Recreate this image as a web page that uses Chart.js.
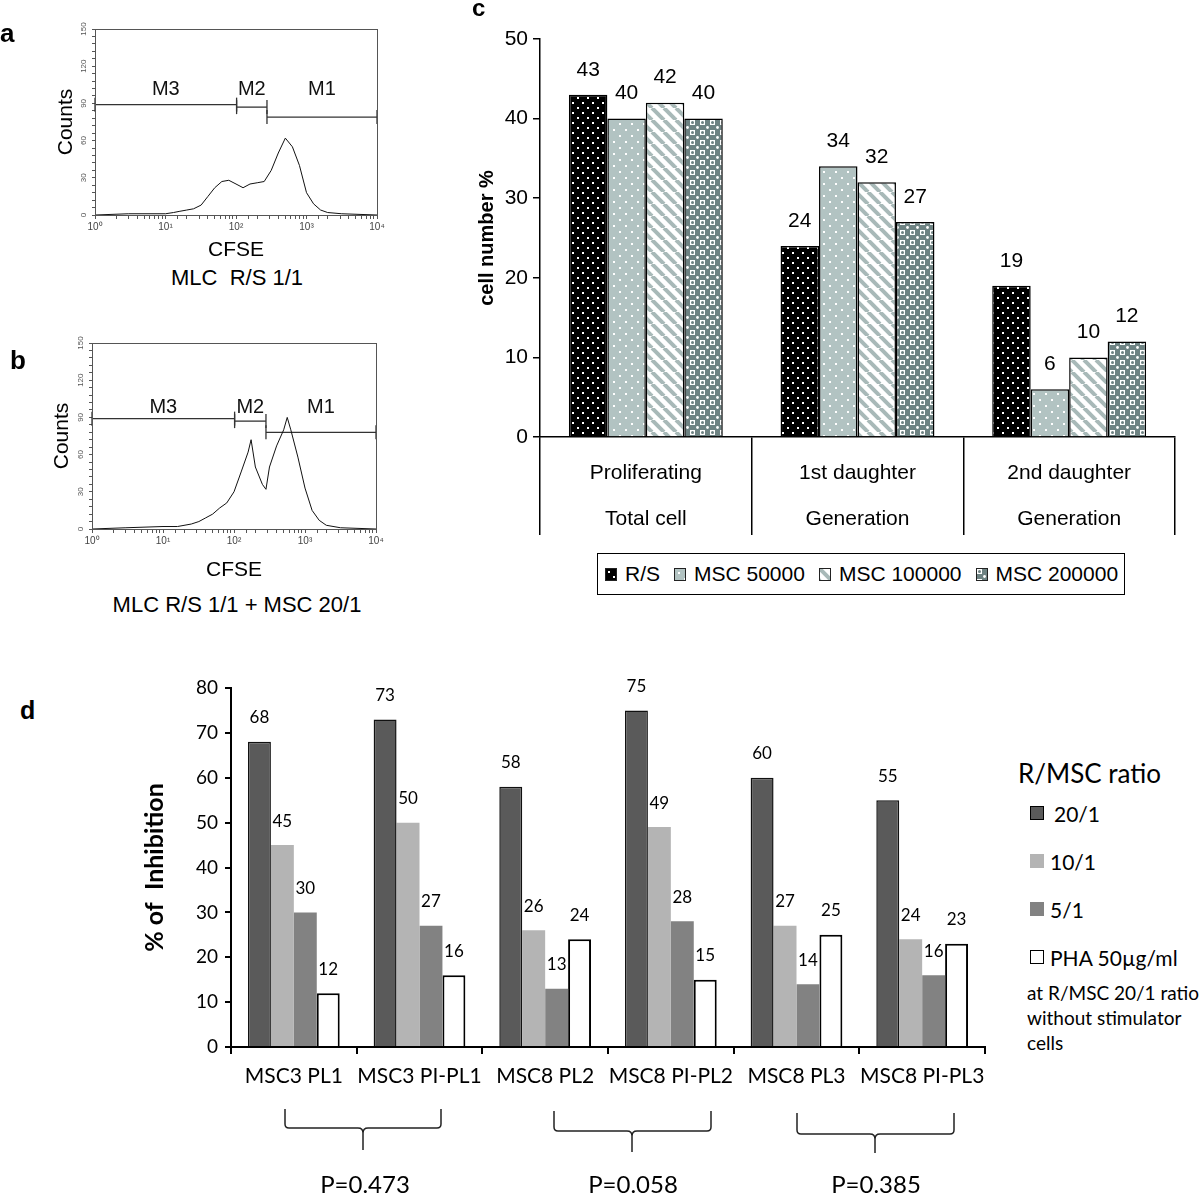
<!DOCTYPE html>
<html>
<head>
<meta charset="utf-8">
<title>MSC inhibition of proliferation</title>
<script src="https://cdn.jsdelivr.net/npm/chart.js@4.4.1/dist/chart.umd.min.js"></script>
<style>
  body { margin: 0; background: #fff; }
  #page { position: relative; width: 1200px; height: 1196px; overflow: hidden; background: #fff;
          font-family: "Liberation Sans", Arial, sans-serif; color: #000; }
  #page > canvas { position: absolute; }
  .t { position: absolute; white-space: nowrap; line-height: 1; transform: translateY(-50%); }
  .tc { position: absolute; white-space: nowrap; line-height: 1; transform: translate(-50%, -50%); }
  .lato { font-family: Lato, "Open Sans", sans-serif; }
  .panel { font-weight: bold; }
  #legendC { position: absolute; left: 597px; top: 553px; width: 528px; height: 42px; box-sizing: border-box;
             border: 1.5px solid #000; display: flex; align-items: center; padding-left: 7px; font-size: 21px;
             white-space: nowrap; }
  #legendC .item { flex: none; display: flex; align-items: center; margin-right: 14px; }
  #legendC canvas { flex: none; border: 1px solid #222; margin-right: 8px; }
  .sw { position: absolute; box-sizing: border-box; }
  svg { position: absolute; left: 0; top: 0; }
</style>
</head>
<body>
<div id="page">
  <canvas id="histA" width="400" height="263" style="left:0;top:0"></canvas>
  <canvas id="histB" width="400" height="269" style="left:0;top:314px"></canvas>
  <canvas id="chartC" width="740" height="545" style="left:460px;top:0"></canvas>
  <canvas id="chartD" width="900" height="460" style="left:100px;top:640px"></canvas>

  <div class="t panel" style="left:0;top:33px;font-size:26px">a</div>
  <div class="t panel" style="left:10px;top:360px;font-size:26px">b</div>
  <div class="t panel" style="left:472px;top:8px;font-size:24px">c</div>
  <div class="t panel" style="left:20px;top:710px;font-size:25px">d</div>

  <div class="tc" style="left:237px;top:278px;font-size:22px">MLC&nbsp; R/S 1/1</div>
  <div class="tc" style="left:237px;top:605px;font-size:22px">MLC R/S 1/1 + MSC 20/1</div>

  <div id="legendC"></div>
  <div id="legendD" class="lato"></div>

  <svg width="1200" height="1196">
    <g fill="none" stroke="#222" stroke-width="1.5">
      <path d="M285 1109 L285 1124 Q285 1128 289 1128 L358 1128 Q363 1128 363 1133 L363 1150 M363 1133 Q363 1128 368 1128 L437 1128 Q441 1128 441 1124 L441 1109"/>
      <path d="M554 1111 L554 1127 Q554 1131 558 1131 L627 1131 Q632 1131 632 1136 L632 1152 M632 1136 Q632 1131 637 1131 L707 1131 Q711 1131 711 1127 L711 1111"/>
      <path d="M797 1113 L797 1130 Q797 1134 801 1134 L870 1134 Q875 1134 875 1139 L875 1153 M875 1139 Q875 1134 880 1134 L950 1134 Q954 1134 954 1130 L954 1113"/>
    </g>
  </svg>
  <div id="pvals" class="lato"></div>
</div>

<script>
// panels a/b: CFSE histograms (channel value, counts)
var cfseA = [1, 3, 10, 13, 16, 20, 25, 32, 40, 50, 63, 79, 100, 126, 158, 200, 251, 316, 398, 501, 631, 794, 1000, 1259, 1585, 1995, 3162, 10000];
var countsA = [0, 1, 1, 2, 3, 4, 5, 8, 15, 22, 27, 28, 25, 22, 25, 26, 27, 36, 50, 62, 55, 40, 18, 9, 4, 2, 1, 0];
var cfseB = [1, 3, 10, 16, 25, 32, 40, 50, 63, 79, 100, 126, 158, 174, 200, 251, 282, 316, 398, 501, 562, 631, 794, 1000, 1259, 1585, 1995, 3162, 10000];
var countsB = [0, 1, 2, 2, 4, 6, 9, 12, 17, 21, 30, 46, 62, 72, 50, 36, 32, 50, 67, 80, 90, 80, 58, 33, 15, 7, 3, 1, 0];
var gateNames = ["M3", "M2", "M1"];
var gateRangesA = [[1, 102], [102, 275], [275, 10000]];
var gateLevelsA = [89, 87, 79];
var gateRangesB = [[1, 102], [102, 282], [282, 10000]];
var gateLevelsB = [89, 87, 78];
var countTicks = [0, 30, 60, 90, 120, 150];

// panel c
var cCategories = [["Proliferating", "Total cell"], ["1st daughter", "Generation"], ["2nd daughter", "Generation"]];
var cSeries = ["R/S", "MSC 50000", "MSC 100000", "MSC 200000"];
var cRS = [43, 24, 19];
var cMSC50 = [40, 34, 6];
var cMSC100 = [42, 32, 10];
var cMSC200 = [40, 27, 12];

// panel d
var dCategories = ["MSC3 PL1", "MSC3 PI-PL1", "MSC8 PL2", "MSC8 PI-PL2", "MSC8 PL3", "MSC8 PI-PL3"];
var dSeries = ["20/1", "10/1", "5/1", "PHA 50\u00b5g/ml"];
var d20 = [68, 73, 58, 75, 60, 55];
var d10 = [45, 50, 26, 49, 27, 24];
var d5 = [30, 27, 13, 28, 14, 16];
var dPHA = [12, 16, 24, 15, 25, 23];
var pValues = ["P=0.473", "P=0.058", "P=0.385"];

var sup = ["\u2070", "\u00b9", "\u00b2", "\u00b3", "\u2074"];
function decade(v) {
  var e = Math.round(Math.log10(v));
  return Math.abs(Math.pow(10, e) - v) < 1e-6 ? "10" + sup[e] : "";
}

var frame = {
  id: "frame",
  afterDraw: function (chart) {
    var a = chart.chartArea, c = chart.ctx;
    c.save();
    c.strokeStyle = "#555";
    c.lineWidth = 1;
    c.strokeRect(a.left + 0.5, a.top + 0.5, a.right - a.left, a.bottom - a.top);
    c.restore();
  }
};

var gateLabels = {
  id: "gateLabels",
  afterDatasetsDraw: function (chart, args, opts) {
    var xs = chart.scales.x, ys = chart.scales.y, c = chart.ctx;
    c.save();
    c.font = '20px "Liberation Sans"';
    c.textAlign = "center";
    c.textBaseline = "middle";
    c.fillStyle = "#111";
    opts.names.forEach(function (n, i) {
      var r = opts.ranges[i];
      c.fillText(n, xs.getPixelForValue(Math.sqrt(r[0] * r[1])), ys.getPixelForValue(opts.y));
    });
    c.restore();
  }
};

var valueLabels = {
  id: "valueLabels",
  afterDatasetsDraw: function (chart, args, opts) {
    var c = chart.ctx;
    c.save();
    c.font = opts.font;
    c.fillStyle = "#000";
    c.textAlign = "center";
    c.textBaseline = "middle";
    chart.data.datasets.forEach(function (ds, i) {
      chart.getDatasetMeta(i).data.forEach(function (bar, j) {
        c.fillText(ds.data[j], bar.x, bar.y - opts.offset);
      });
    });
    c.restore();
  }
};

function histogram(id, cfse, counts, ranges, levels, o) {
  var gates = ranges.map(function (r, i) {
    return {
      data: [{ x: r[0], y: levels[i] }, { x: r[1], y: levels[i] }],
      borderColor: "#333", borderWidth: 1.3,
      pointStyle: "line", pointRotation: 90, pointRadius: 7,
      pointBorderColor: "#333", pointBorderWidth: 1.3, clip: false
    };
  });
  return new Chart(document.getElementById(id), {
    type: "line",
    data: {
      datasets: [{
        data: cfse.map(function (x, i) { return { x: x, y: counts[i] }; }),
        borderColor: "#111", borderWidth: 1, pointRadius: 0, tension: 0
      }].concat(gates)
    },
    options: {
      responsive: false,
      animation: false,
      font: { family: "Liberation Sans" },
      layout: { padding: { left: 0, top: 29, right: o.right, bottom: 0 } },
      plugins: {
        legend: { display: false },
        tooltip: { enabled: false },
        gateLabels: { names: gateNames, ranges: ranges, y: o.labelY }
      },
      scales: {
        x: {
          type: "logarithmic", min: 1, max: 10000,
          afterFit: function (s) { s.height = o.xh; },
          border: { color: "#555" },
          grid: { drawOnChartArea: false, tickLength: 4, color: "#555" },
          ticks: { autoSkip: false, minRotation: 0, maxRotation: 0, padding: 2, color: "#444",
                   font: { size: 10 }, callback: function (v) { return decade(v); } },
          title: { display: true, text: "CFSE", color: "#000", font: { size: 21 }, padding: 0 }
        },
        y: {
          min: 0, max: 150,
          afterFit: function (s) { s.width = o.yw; },
          border: { color: "#555" },
          grid: { drawOnChartArea: false, tickLength: 3, color: "#555" },
          ticks: { stepSize: 6, autoSkip: false, minRotation: 90, maxRotation: 90, crossAlign: "center",
                   padding: 2, color: "#555", font: { size: 8 },
                   callback: function (v) { return countTicks.indexOf(Math.round(v)) >= 0 && Math.abs(v - Math.round(v)) < 1e-6 ? Math.round(v) : ""; } },
          title: { display: true, text: "Counts", color: "#000", font: { size: 21 }, padding: { top: o.titlePad, bottom: 0 } }
        }
      }
    },
    plugins: [frame, gateLabels]
  });
}

histogram("histA", cfseA, countsA, gateRangesA, gateLevelsA, { right: 23, xh: 48, yw: 95, titlePad: 54, labelY: 101 });
histogram("histB", cfseB, countsB, gateRangesB, gateLevelsB, { right: 24, xh: 54, yw: 92, titlePad: 50, labelY: 98 });

// fill patterns for panel c
function tile(kind) {
  var t = document.createElement("canvas");
  var g = t.getContext("2d");
  if (kind === 0) {
    t.width = 10; t.height = 10;
    g.fillStyle = "#000"; g.fillRect(0, 0, 10, 10);
    g.fillStyle = "#fff"; g.fillRect(2, 2, 2, 2); g.fillRect(7, 7, 2, 2);
  } else if (kind === 1) {
    t.width = 12; t.height = 12;
    g.fillStyle = "#b2c3c2"; g.fillRect(0, 0, 12, 12);
    g.fillStyle = "#fff"; g.fillRect(3, 3, 2, 2); g.fillRect(9, 9, 2, 2);
  } else if (kind === 2) {
    t.width = 12; t.height = 12;
    g.fillStyle = "#fff"; g.fillRect(0, 0, 12, 12);
    g.strokeStyle = "#a8b9b8"; g.lineWidth = 4;
    [-12, 0, 12].forEach(function (o) { g.beginPath(); g.moveTo(o, 0); g.lineTo(o + 12, 12); g.stroke(); });
  } else {
    t.width = 10; t.height = 10;
    g.fillStyle = "#6d8282"; g.fillRect(0, 0, 10, 10);
    g.fillStyle = "#fff"; g.fillRect(0, 0, 5, 5);
    g.fillStyle = "#6d8282"; g.beginPath(); g.arc(2.5, 2.5, 1.5, 0, Math.PI * 2); g.fill();
    g.fillStyle = "#fff"; g.beginPath(); g.arc(7.5, 7.5, 1.4, 0, Math.PI * 2); g.fill();
  }
  return t;
}

var ctxC = document.getElementById("chartC").getContext("2d");
var cValues = [cRS, cMSC50, cMSC100, cMSC200];
new Chart(ctxC, {
  type: "bar",
  data: {
    labels: cCategories,
    datasets: cValues.map(function (v, i) {
      return {
        label: cSeries[i], data: v,
        backgroundColor: ctxC.createPattern(tile(i), "repeat"),
        borderColor: "#000", borderWidth: 1.5,
        categoryPercentage: 0.727, barPercentage: 1
      };
    })
  },
  options: {
    responsive: false,
    animation: false,
    layout: { padding: { left: 0, top: 39, right: 25, bottom: 0 } },
    plugins: {
      legend: { display: false },
      tooltip: { enabled: false },
      valueLabels: { font: '21px "Liberation Sans"', offset: 25 }
    },
    scales: {
      x: {
        afterFit: function (s) { s.height = 108; },
        border: { color: "#000", width: 1.5 },
        grid: { offset: true, drawOnChartArea: false, tickLength: 98, color: "#000", lineWidth: 1.5 },
        ticks: { color: "#000", minRotation: 0, maxRotation: 0, padding: -85,
                 font: { family: "Liberation Sans", size: 21, lineHeight: 46 / 21 } }
      },
      y: {
        min: 0, max: 50,
        afterFit: function (s) { s.width = 80; },
        border: { color: "#000", width: 1.5 },
        grid: { drawOnChartArea: false, tickLength: 7, color: "#000", lineWidth: 1.5 },
        ticks: { stepSize: 10, color: "#000", padding: 5, font: { family: "Liberation Sans", size: 21 } },
        title: { display: true, text: "cell number %", color: "#000",
                 font: { family: "Liberation Sans", size: 20, weight: "bold" }, padding: { top: 15, bottom: 0 } }
      }
    }
  },
  plugins: [valueLabels]
});

// legend for panel c
var legendC = document.getElementById("legendC");
cSeries.forEach(function (name, i) {
  var item = document.createElement("div");
  item.className = "item";
  var sw = document.createElement("canvas");
  sw.width = 10; sw.height = 11;
  var g = sw.getContext("2d");
  g.fillStyle = g.createPattern(tile(i), "repeat");
  g.fillRect(0, 0, 10, 11);
  item.appendChild(sw);
  var s = document.createElement("span");
  s.textContent = name;
  item.appendChild(s);
  legendC.appendChild(item);
});

// panel d
var dColors = ["#5a5a5a", "#b4b4b4", "#828282", "#ffffff"];
var dBorders = ["#111", "#b4b4b4", "#828282", "#000"];
var dBorderW = [1.5, 0, 0, 2];
var dValues = [d20, d10, d5, dPHA];
new Chart(document.getElementById("chartD"), {
  type: "bar",
  data: {
    labels: dCategories,
    datasets: dValues.map(function (v, i) {
      return {
        label: dSeries[i], data: v,
        backgroundColor: dColors[i], borderColor: dBorders[i], borderWidth: dBorderW[i],
        categoryPercentage: 0.73, barPercentage: 1
      };
    })
  },
  options: {
    responsive: false,
    animation: false,
    layout: { padding: { left: 0, top: 48, right: 15, bottom: 0 } },
    plugins: {
      legend: { display: false },
      tooltip: { enabled: false },
      valueLabels: { font: "17px Lato", offset: 24 }
    },
    scales: {
      x: {
        afterFit: function (s) { s.height = 53; },
        border: { color: "#000", width: 2 },
        grid: { offset: true, drawOnChartArea: false, tickLength: 7, color: "#000", lineWidth: 2 },
        ticks: { autoSkip: false, color: "#000", minRotation: 0, maxRotation: 0, padding: 10,
                 font: { family: "Lato", size: 21 } }
      },
      y: {
        min: 0, max: 80,
        afterFit: function (s) { s.width = 131; },
        border: { color: "#000", width: 2 },
        grid: { drawOnChartArea: false, tickLength: 6, color: "#000", lineWidth: 2 },
        ticks: { stepSize: 10, color: "#000", padding: 7, font: { family: "Lato", size: 19 } },
        title: { display: true, text: "% of  Inhibition", color: "#000",
                 font: { family: "Lato", size: 25, weight: "bold" }, padding: { top: 40, bottom: 0 } }
      }
    }
  },
  plugins: [valueLabels]
});

// legend for panel d
var legendD = document.getElementById("legendD");
var html = '<div class="t" style="left:1018px;top:773px;font-size:26px">R/MSC ratio</div>';
dSeries.forEach(function (name, i) {
  var cy = 813 + i * 48;
  html += '<div class="sw" style="left:1030px;top:' + (cy - 7) + 'px;width:14px;height:14px;background:' + dColors[i] +
          ';border:' + (dBorderW[i] ? '1.5px solid #000' : '0') + '"></div>';
  html += '<div class="t" style="left:' + (i === 0 ? 1054 : 1050) + 'px;top:' + cy + 'px;font-size:21px">' + name + '</div>';
});
["at R/MSC 20/1 ratio", "without stimulator", "cells"].forEach(function (line, i) {
  html += '<div class="t" style="left:1027px;top:' + (992 + i * 25) + 'px;font-size:19px">' + line + '</div>';
});
legendD.innerHTML = html;

// p values under the brackets
var pX = [365, 633, 876];
document.getElementById("pvals").innerHTML = pValues.map(function (p, i) {
  return '<div class="tc" style="left:' + pX[i] + 'px;top:1184px;font-size:24px">' + p + '</div>';
}).join("");
</script>
</body>
</html>
